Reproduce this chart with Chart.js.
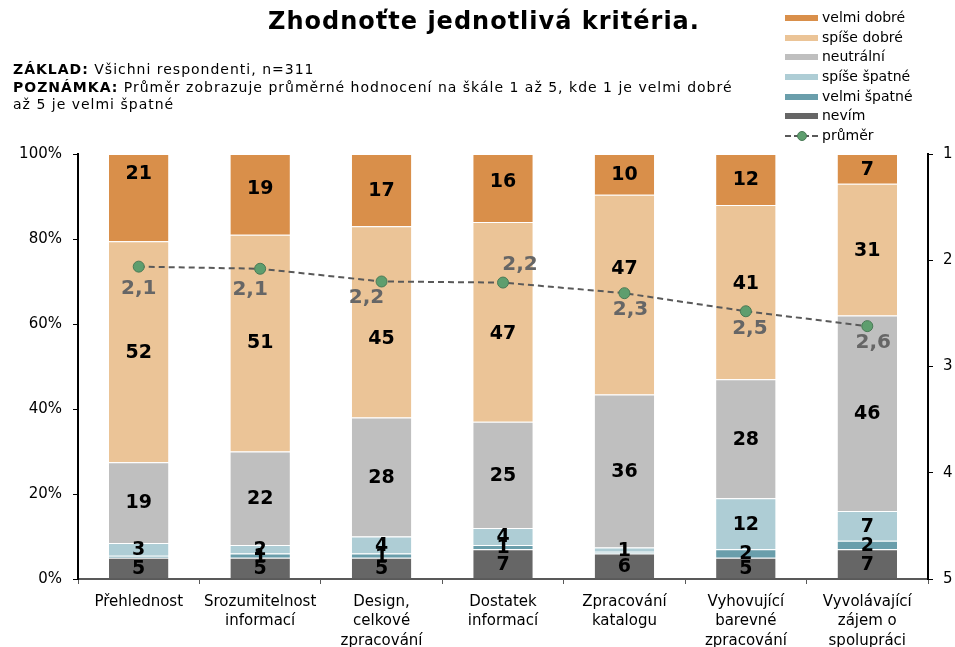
<!DOCTYPE html>
<html>
<head>
<meta charset="utf-8">
<script src="https://cdn.jsdelivr.net/npm/chart.js@4.4.1/dist/chart.umd.min.js"></script>
<style>
  body { margin: 0; background: #fff; font-family: 'DejaVu Sans', Verdana, sans-serif; color: #000; }
  #page { position: relative; width: 955px; height: 647px; overflow: hidden; }
  #chart { position: absolute; left: 0; top: 0; }
  .title { position: absolute; left: 0; width: 968px; top: 10px; text-align: center; font-weight: bold; font-size: 24px; line-height: 23px; letter-spacing: 1px; }
  .meta { position: absolute; left: 13px; top: 61px; font-size: 14px; line-height: 17.5px; letter-spacing: 1px; }
  .legend { position: absolute; left: 785px; top: 8px; font-size: 14px; }
  .legend .row { position: relative; height: 19.7px; line-height: 19.7px; padding-left: 37px; white-space: nowrap; }
  .legend .sw { position: absolute; left: 0; top: 7px; width: 33px; height: 6px; }
  .legend .dash { position: absolute; left: 0; top: 9px; width: 33px; border-top: 2px dashed #595959; }
  .legend .dot { position: absolute; left: 12px; top: 5px; width: 8px; height: 8px; border-radius: 50%; background: #5e9e6e; border: 1px solid #4a7a56; }
</style>
</head>
<body>
<div id="page">
  <canvas id="chart" width="955" height="647"></canvas>
  <div class="title">Zhodnoťte jednotlivá kritéria.</div>
  <div class="meta">
    <b>ZÁKLAD:</b> Všichni respondenti, n=311<br>
    <b>POZNÁMKA:</b> Průměr zobrazuje průměrné hodnocení na škále 1 až 5, kde 1 je velmi dobré<br>
    až 5 je velmi špatné
  </div>
  <div class="legend" id="legend"></div>
</div>
<script>
// categories (bottom axis)
const categories = [
    ['Přehlednost'],
    ['Srozumitelnost', 'informací'],
    ['Design,', 'celkové', 'zpracování'],
    ['Dostatek', 'informací'],
    ['Zpracování', 'katalogu'],
    ['Vyhovující', 'barevné', 'zpracování'],
    ['Vyvolávající', 'zájem o', 'spolupráci']
];

// stacked shares in %, bottom to top
const nevim       = [5, 5, 5, 7, 6, 5, 7];
const velmiSpatne = [0.5, 1, 1, 1, 0.4, 2, 2];
const spiseSpatne = [3, 2, 4, 4, 1, 12, 7];
const neutralni   = [19, 22, 28, 25, 36, 28, 46];
const spiseDobre  = [52, 51, 45, 47, 47, 41, 31];
const velmiDobre  = [20.5, 19, 17, 16, 9.6, 12, 7];

// average rating (1 = velmi dobré, 5 = velmi špatné)
const prumer = [2.06, 2.08, 2.2, 2.21, 2.31, 2.48, 2.62];

const percentTicks = [0, 20, 40, 60, 80, 100];
const meanTicks = [1, 2, 3, 4, 5];

const barSeries = [
    { label: 'nevím', data: nevim, color: '#666666' },
    { label: 'velmi špatné', data: velmiSpatne, color: '#6a9eab' },
    { label: 'spíše špatné', data: spiseSpatne, color: '#aecdd5' },
    { label: 'neutrální', data: neutralni, color: '#bfbfbf' },
    { label: 'spíše dobré', data: spiseDobre, color: '#ebc497' },
    { label: 'velmi dobré', data: velmiDobre, color: '#d98f4a' }
];

// label nudges (px) where the original moved a label off the segment centre
const labelNudge = {
    'spíše dobré': [0, -1, 16, 11, -27, -9, 0],
    'velmi dobré': [-25, -6, 0, -7, 0, 0, 0]
};
const meanLabelShift = [[0, 22], [-10, 21], [-15, 16], [17, -18], [6, 17], [4, 18], [6, 17]];

// legend (top-down order like the original)
const legendEl = document.getElementById('legend');
barSeries.slice().reverse().forEach(s => {
    legendEl.insertAdjacentHTML('beforeend',
        `<div class="row"><span class="sw" style="background:${s.color}"></span>${s.label}</div>`);
});
legendEl.insertAdjacentHTML('beforeend',
    '<div class="row"><span class="dash"></span><span class="dot"></span>průměr</div>');

const labelPlugin = {
    id: 'valueLabels',
    afterDatasetsDraw(chart) {
        const ctx = chart.ctx;
        ctx.save();
        ctx.textAlign = 'center';
        ctx.textBaseline = 'middle';

        // segment values
        ctx.font = 'bold 19px "DejaVu Sans"';
        ctx.fillStyle = '#000';
        chart.data.datasets.forEach((ds, di) => {
            if (ds.type === 'line') return;
            const nudge = labelNudge[ds.label] || [];
            chart.getDatasetMeta(di).data.forEach((bar, i) => {
                const v = ds.data[i];
                if (v < 1) return;
                ctx.fillText(Math.round(v), bar.x, (bar.y + bar.base) / 2 + 1 + (nudge[i] || 0));
            });
        });

        // averages
        ctx.font = 'bold 20px "DejaVu Sans"';
        ctx.fillStyle = '#666666';
        const li = chart.data.datasets.findIndex(d => d.type === 'line');
        chart.getDatasetMeta(li).data.forEach((pt, i) => {
            const [dx, dy] = meanLabelShift[i];
            ctx.fillText(prumer[i].toFixed(1).replace('.', ','), pt.x + dx, pt.y + dy);
        });
        ctx.restore();
    }
};

Chart.defaults.font.family = "'DejaVu Sans', Verdana, sans-serif";
Chart.defaults.font.size = 15;
Chart.defaults.color = '#000';

new Chart(document.getElementById('chart'), {
    type: 'bar',
    data: {
        labels: categories,
        datasets: [
            ...barSeries.map(s => ({
                label: s.label,
                data: s.data,
                backgroundColor: s.color,
                borderColor: '#ffffff',
                borderWidth: { top: 1, bottom: 0, left: 0, right: 0 },
                borderSkipped: false,
                barPercentage: 0.49,
                categoryPercentage: 1,
                yAxisID: 'y',
                order: 1
            })),
            {
                type: 'line',
                label: 'průměr',
                data: prumer,
                yAxisID: 'y2',
                borderColor: '#595959',
                borderWidth: 2,
                borderDash: [6, 4],
                pointRadius: 5.5,
                pointBackgroundColor: '#5e9e6e',
                pointBorderColor: '#4a7a56',
                pointBorderWidth: 1,
                fill: false,
                order: 0
            }
        ]
    },
    options: {
        responsive: false,
        animation: false,
        layout: { padding: { top: 154, left: 0, right: 0, bottom: 0 } },
        plugins: {
            legend: { display: false },
            tooltip: { enabled: false }
        },
        scales: {
            x: {
                stacked: true,
                grid: { display: true, drawOnChartArea: false, tickLength: 5, color: '#595959' },
                border: { color: '#595959', width: 2 },
                ticks: { padding: 8, maxRotation: 0, autoSkip: false, font: { size: 15, lineHeight: 1.3 } },
                afterFit: s => { s.height = 68; }
            },
            y: {
                stacked: true,
                position: 'left',
                min: 0,
                max: 100,
                afterBuildTicks: s => { s.ticks = percentTicks.map(v => ({ value: v })); },
                grid: { display: true, drawOnChartArea: false, tickLength: 5, color: '#000' },
                border: { color: '#000', width: 2 },
                ticks: { padding: 11, callback: v => v + '%' },
                afterFit: s => { s.width = 78; }
            },
            y2: {
                position: 'right',
                min: 1,
                max: 5,
                reverse: true,
                afterBuildTicks: s => { s.ticks = meanTicks.map(v => ({ value: v })); },
                grid: { display: true, drawOnChartArea: false, tickLength: 5, color: '#000' },
                border: { color: '#000', width: 2 },
                ticks: { padding: 10 },
                afterFit: s => { s.width = 27; }
            }
        }
    },
    plugins: [labelPlugin]
});
</script>
</body>
</html>
